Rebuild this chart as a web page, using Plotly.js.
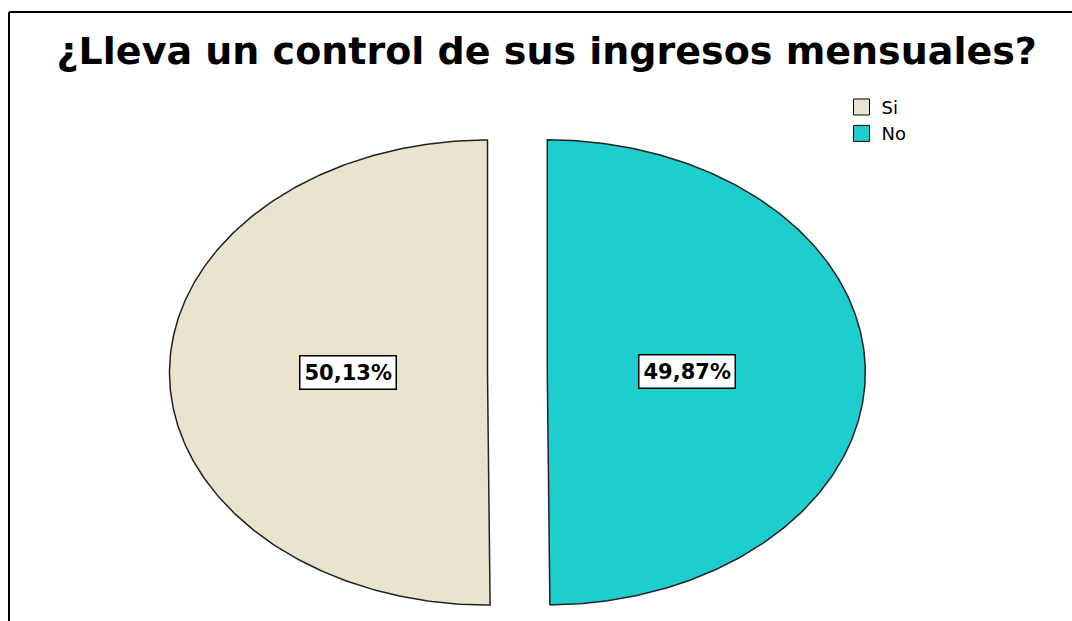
<!DOCTYPE html>
<html>
<head>
<meta charset="utf-8">
<script src="https://cdn.plot.ly/plotly-3.0.1.min.js"></script>
<style>
  html, body { margin: 0; padding: 0; background: #ffffff; }
  #chart { width: 1072px; height: 621px; }
</style>
</head>
<body>
<div id="chart"></div>
<script>
// ---- data ----
const categories = ['Si', 'No'];
const percentages = [50.13, 49.87];
const labelTexts = ['50,13%', '49,87%'];
const sliceColors = ['#EAE4CE', '#1ECDCD'];

// ---- geometry helpers (unit circle in data space; axes stretch it to an ellipse) ----
const pull = 0.094;        // explode distance, fraction of radius
const labelRadius = 0.44;  // label distance from slice centre
const startAngle = 90;     // 12 o'clock, going counter-clockwise
const total = percentages.reduce((a, b) => a + b, 0);

const traces = [];
const annotations = [];
let cursor = startAngle;
percentages.forEach((v, i) => {
  const span = v / total * 360;
  const a0 = cursor, a1 = cursor + span;
  cursor = a1;
  const mid = (a0 + a1) / 2 * Math.PI / 180;
  const cx = pull * Math.cos(mid), cy = pull * Math.sin(mid);
  const xs = [cx], ys = [cy];
  const n = 240;
  for (let k = 0; k <= n; k++) {
    const a = (a0 + (a1 - a0) * k / n) * Math.PI / 180;
    xs.push(cx + Math.cos(a));
    ys.push(cy + Math.sin(a));
  }
  xs.push(cx); ys.push(cy);
  traces.push({
    type: 'scatter', mode: 'lines', x: xs, y: ys,
    fill: 'toself', fillcolor: sliceColors[i],
    line: { color: '#222222', width: 1.5 },
    name: categories[i], showlegend: false, hoverinfo: 'skip'
  });
  annotations.push({
    x: cx + labelRadius * Math.cos(mid), y: cy + labelRadius * Math.sin(mid),
    xref: 'x', yref: 'y', text: '<b>' + labelTexts[i] + '</b>', showarrow: false,
    font: { family: 'DejaVu Sans', size: 21, color: '#000000' },
    bgcolor: '#ffffff', bordercolor: '#000000', borderwidth: 1.5, borderpad: 4
  });
});

// legend entries
categories.forEach((c, i) => {
  traces.push({
    type: 'scatter', mode: 'markers', x: [null], y: [null], name: c,
    marker: { symbol: 'square', size: 16, color: sliceColors[i], line: { color: '#000000', width: 1 } },
    showlegend: true, hoverinfo: 'skip'
  });
});

const layout = {
  width: 1072, height: 621,
  margin: { l: 0, r: 0, t: 0, b: 0 },
  paper_bgcolor: '#ffffff', plot_bgcolor: '#ffffff',
  title: {
    text: '<b>¿Lleva un control de sus ingresos mensuales?</b>',
    font: { family: 'DejaVu Sans', size: 38, color: '#000000' },
    x: 0.51, xanchor: 'center', y: 0.919, yanchor: 'middle'
  },
  xaxis: { range: [-1.627, 1.744], visible: false, fixedrange: true },
  yaxis: { range: [-1.069, 1.602], visible: false, fixedrange: true },
  showlegend: true,
  legend: {
    x: 0.785, xanchor: 'left', y: 0.857, yanchor: 'top',
    font: { family: 'DejaVu Sans', size: 18, color: '#000000' },
    bgcolor: 'rgba(0,0,0,0)', tracegroupgap: 0
  },
  annotations: annotations,
  shapes: [
    { type: 'line', xref: 'paper', yref: 'paper', x0: 9/1072, x1: 1, y0: 1 - 12/621, y1: 1 - 12/621, line: { color: '#000000', width: 2 } },
    { type: 'line', xref: 'paper', yref: 'paper', x0: 9/1072, x1: 9/1072, y0: 0, y1: 1 - 12/621, line: { color: '#000000', width: 2 } }
  ]
};

Plotly.newPlot('chart', traces, layout, { displayModeBar: false, staticPlot: true });
</script>
</body>
</html>
